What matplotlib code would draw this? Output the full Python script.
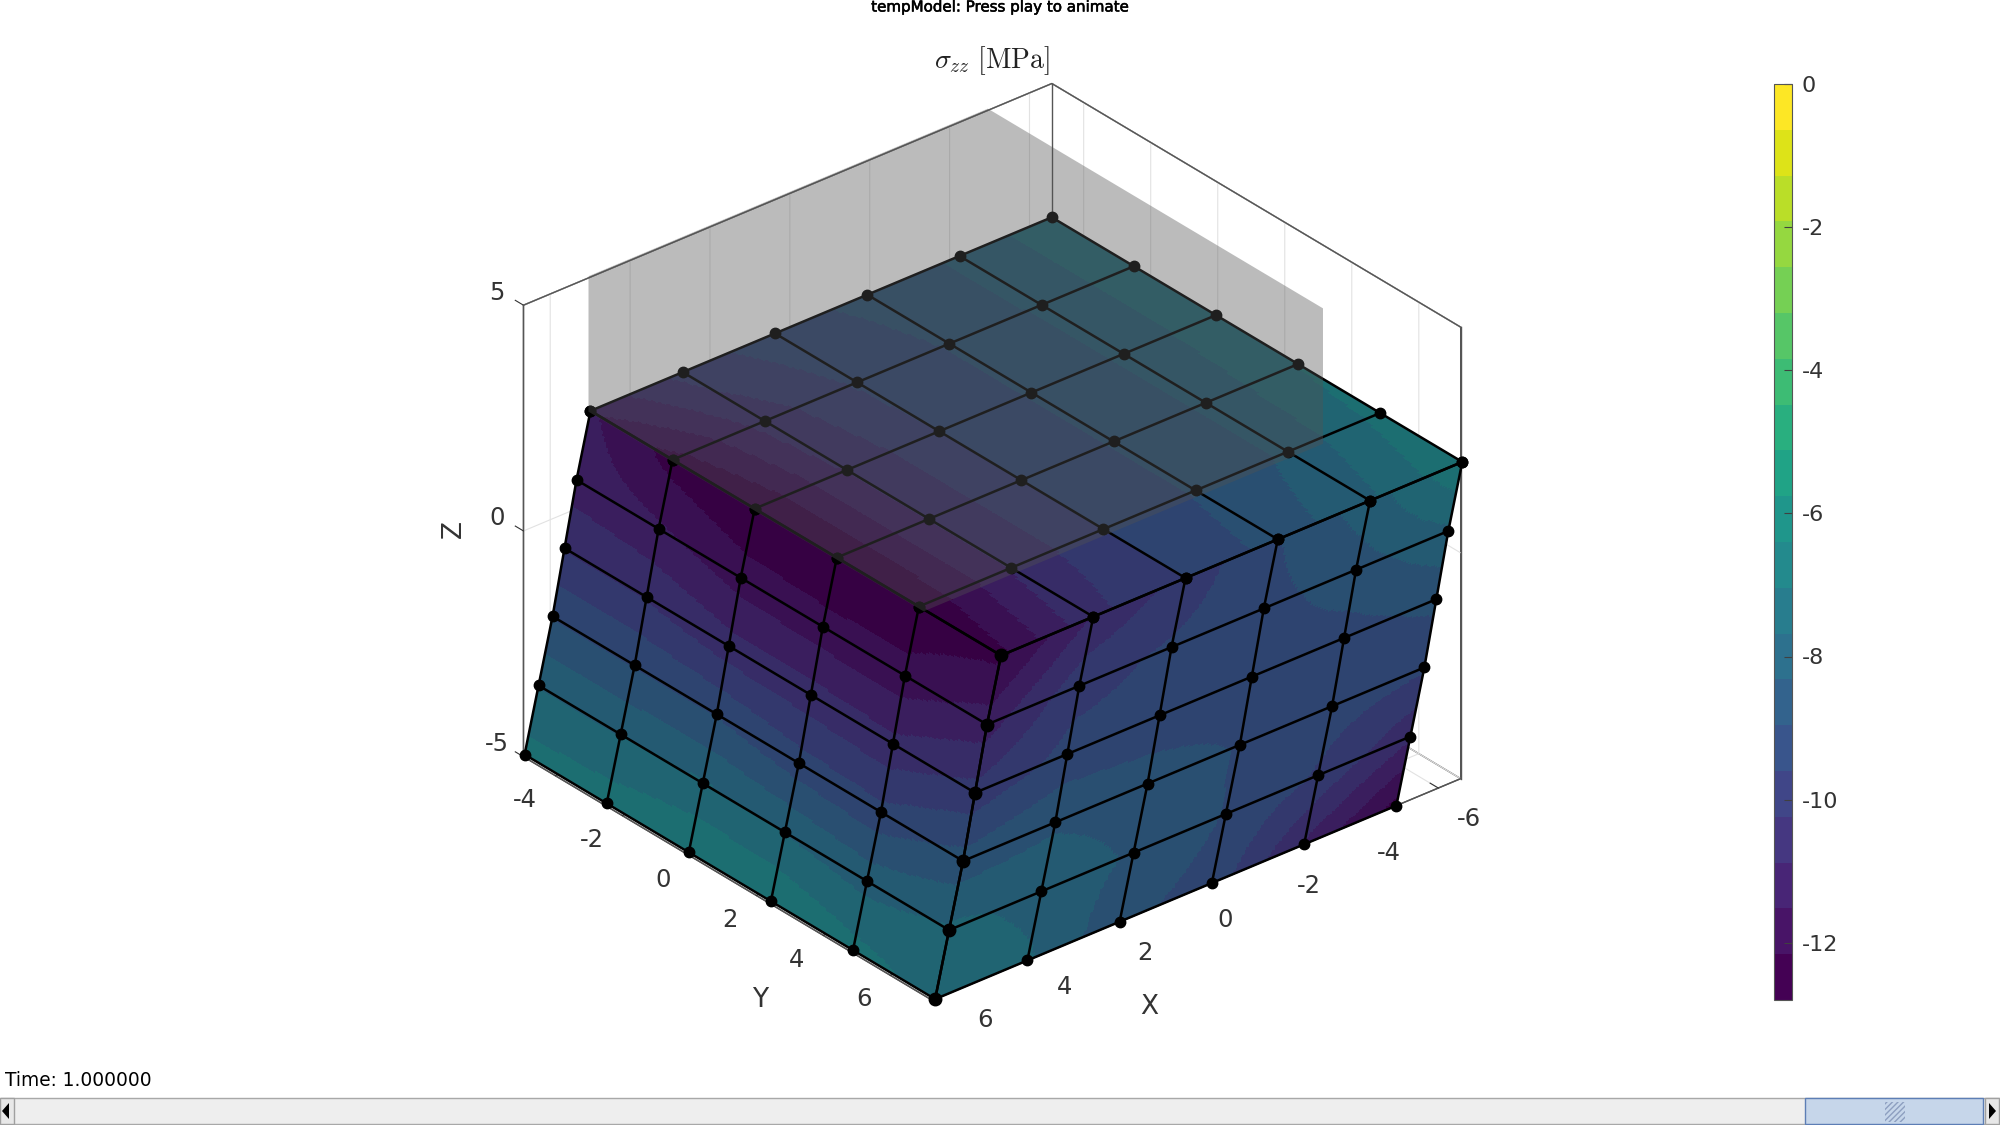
import numpy as np
import matplotlib
matplotlib.use('Agg')
import matplotlib.pyplot as plt
import matplotlib.patheffects as pe
from matplotlib.cm import ScalarMappable
from matplotlib.colors import Normalize
from matplotlib.patches import Polygon, Rectangle
from mpl_toolkits.mplot3d.art3d import Poly3DCollection

plt.rcParams['font.family'] = 'DejaVu Sans'
plt.rcParams['mathtext.fontset'] = 'cm'
plt.rcParams['axes.unicode_minus'] = False

# node positions of the mesh
z_layers = [-5.0, -3.6, -2.2, -0.8, 0.6, 2.0]
y_nodes = [-5.0, -2.55, -0.1, 2.35, 4.8, 7.25]
x_nodes = np.array([
    [6.60, 4.29, 1.98, -0.33, -2.64, -4.95],
    [6.25, 3.94, 1.63, -0.68, -2.99, -5.30],
    [5.90, 3.59, 1.28, -1.03, -3.34, -5.65],
    [5.60, 3.29, 0.98, -1.33, -3.64, -5.95],
    [5.30, 2.99, 0.68, -1.63, -3.94, -6.25],
    [4.95, 2.64, 0.33, -1.98, -4.29, -6.60],
])

# sigma_zz on the three visible faces (rows bottom to top, or +x to -x on top)
stress_xface = np.array([
    [-6.8, -6.7, -6.4, -6.4, -6.8, -7.2],
    [-7.7, -7.7, -7.6, -7.7, -7.9, -7.6],
    [-9.0, -9.0, -9.0, -9.3, -9.4, -8.7],
    [-10.3, -10.3, -10.6, -10.6, -10.7, -10.0],
    [-11.2, -11.4, -11.8, -11.9, -11.9, -11.2],
    [-11.4, -12.4, -12.8, -12.8, -12.7, -12.3],
])
stress_yface = np.array([
    [-7.0, -7.6, -8.8, -9.2, -11.0, -12.4],
    [-7.5, -7.9, -8.4, -9.0, -9.7, -10.8],
    [-8.7, -8.4, -8.6, -9.0, -9.3, -9.5],
    [-10.0, -9.4, -9.4, -9.3, -9.2, -8.8],
    [-11.2, -9.8, -9.5, -9.2, -8.6, -7.8],
    [-12.3, -10.8, -10.0, -9.0, -8.0, -6.5],
])
stress_top = np.array([
    [-11.4, -12.4, -12.8, -12.8, -12.7, -12.3],
    [-10.0, -10.6, -10.8, -10.8, -10.8, -10.4],
    [-9.2, -9.5, -9.6, -9.6, -9.6, -9.6],
    [-8.8, -8.9, -8.9, -8.9, -8.9, -8.7],
    [-8.2, -8.2, -8.2, -8.2, -8.2, -7.8],
    [-7.2, -7.2, -7.2, -7.0, -6.8, -6.5],
])

plate_x = [-5, 5]
plate_y = [-5, 5]
plate_z = [2, 5]

x_lim = (-6.56, 6.67)
y_lim = (-4.95, 7.25)
z_lim = (-5, 5)
x_ticks = [-6, -4, -2, 0, 2, 4, 6]
y_ticks = [-4, -2, 0, 2, 4, 6]
z_ticks = [-5, 0, 5]
cbar_ticks = [0, -2, -4, -6, -8, -10, -12]
stress_min = -12.8
stress_max = 0

cmap = plt.get_cmap('viridis', 20)
norm = Normalize(stress_min, stress_max)


def refine(table, n=32):
    # finer grid for the colour bands only
    pos = np.linspace(0, 5, 5 * n + 1)
    rows = np.array([np.interp(pos, np.arange(6), r) for r in table])
    return np.array([np.interp(pos, np.arange(6), c) for c in rows.T]).T


def draw_face(ax, x, y, z, values):
    fine = refine(values)
    mid = (fine[:-1, :-1] + fine[1:, :-1] + fine[:-1, 1:] + fine[1:, 1:]) / 4
    colors = cmap(norm(mid))
    colors[..., :3] *= 0.8
    ax.plot_surface(refine(x), refine(y), refine(z), facecolors=colors, rstride=1,
                    cstride=1, shade=False, linewidth=0, antialiased=False, zorder=2)
    for i in range(6):
        ax.plot(x[i], y[i], z[i], color='k', lw=1.8, zorder=3)
        ax.plot(x[:, i], y[:, i], z[:, i], color='k', lw=1.8, zorder=3)
    ax.plot(x.ravel(), y.ravel(), z.ravel(), 'o', color='k', ms=7.5, zorder=4)


fig = plt.figure(figsize=(20, 11.25), dpi=100)
ax = fig.add_axes([457 / 2000, 48 / 1125, 1042 / 2000, 1042 / 1125], projection='3d',
                  proj_type='ortho', computed_zorder=False)
ax.set_xlim(*x_lim)
ax.set_ylim(*y_lim)
ax.set_zlim(*z_lim)
ax.set_box_aspect((13.23, 12.2, 10))
ax.view_init(elev=30, azim=50)
ax.patch.set_alpha(0)

ax.set_xticks(x_ticks)
ax.set_yticks(y_ticks)
ax.set_zticks(z_ticks)
for axis in (ax.xaxis, ax.yaxis, ax.zaxis):
    axis.pane.fill = False
    axis.pane.set_edgecolor('#555555')
    axis.pane.set_alpha(1)
    axis.pane.set_linewidth(1)
    axis.line.set_color('#555555')
    axis.line.set_linewidth(1)
    axis._axinfo['grid'].update(color='#e2e2e2', linewidth=0.8)
    axis._axinfo['tick'].update(inward_factor=0, outward_factor=0.25, color='#555555')
# MATLAB style z ticks point along y
ax.zaxis._get_tickdir = lambda pos: 1
ax.tick_params(axis='both', labelsize=17.5, labelcolor='#333333', colors='#333333')
ax.tick_params(axis='x', pad=9.5)
ax.tick_params(axis='y', pad=6)
ax.tick_params(axis='z', pad=3)
for label in ax.get_xticklabels():
    label.set_ha('left')
    label.set_va('center')
for label in ax.get_yticklabels():
    label.set_ha('right')
    label.set_va('center')
for label in ax.get_zticklabels():
    label.set_va('bottom')
ax.zaxis.set_rotate_label(False)
ax.set_zlabel('Z', fontsize=19, color='#333333', rotation=90, labelpad=8)

# the grid at z=5 covers the pane edges, so draw the back of the box again
box_style = dict(color='#555555', lw=1, zorder=1)
ax.plot([x_lim[1], x_lim[0], x_lim[0]], [y_lim[0], y_lim[0], y_lim[1]], [z_lim[1]] * 3, **box_style)
ax.plot([x_lim[0], x_lim[0]], [y_lim[1], y_lim[1]], z_lim, **box_style)
ax.plot([x_lim[0], x_lim[0]], [y_lim[0], y_lim[0]], z_lim, **box_style)

zg = np.array([[z] * 6 for z in z_layers])

# +x face: columns run along y
draw_face(ax, np.array([[row[0]] * 6 for row in x_nodes]), np.array([y_nodes] * 6), zg, stress_xface)
# +y face: columns run along x
draw_face(ax, x_nodes, np.full((6, 6), y_nodes[-1]), zg, stress_yface)
# top face: rows run along x, columns along y
top_x = np.array([[v] * 6 for v in x_nodes[-1]])
draw_face(ax, top_x, np.array([y_nodes] * 6), np.full((6, 6), z_layers[-1]), stress_top)
# nodes on the near vertical edge look heavier
ax.plot(x_nodes[:, 0], [y_nodes[-1]] * 6, z_layers, 'o', color='k', ms=9, zorder=4)

# translucent rigid plate resting on the top of the block
plate = [(plate_x[1], plate_y[0], plate_z[1]), (plate_x[0], plate_y[0], plate_z[1]),
         (plate_x[0], plate_y[1], plate_z[1]), (plate_x[0], plate_y[1], plate_z[0]),
         (plate_x[1], plate_y[1], plate_z[0]), (plate_x[1], plate_y[0], plate_z[0])]
ax.add_collection3d(Poly3DCollection([plate], facecolors=(0.32, 0.32, 0.32, 0.39),
                                     edgecolors='none', zorder=5))

# colorbar
cax = fig.add_axes([1774 / 2000, 125 / 1125, 18 / 2000, 916 / 1125])
cb = fig.colorbar(ScalarMappable(norm=norm, cmap=cmap), cax=cax, ticks=cbar_ticks)
cb.ax.tick_params(labelsize=16, direction='in', length=6, width=0.8, color='#404040',
                  labelcolor='#333333', pad=7)
cb.outline.set_edgecolor('#555555')
cb.outline.set_linewidth(0.8)

fig.text(0.5, 1118 / 1125, 'tempModel: Press play to animate', ha='center', va='center',
         fontsize=10.85, color='k', path_effects=[pe.withStroke(linewidth=0.4, foreground='k')])
fig.text(992 / 2000, 1064 / 1125, r'$\sigma_{zz}\ [\mathrm{MPa}]$', ha='center', va='center',
         fontsize=20, color='#222222')
fig.text(5 / 2000, 44 / 1125, 'Time: 1.000000', ha='left', va='center', fontsize=13.4, color='k')
fig.text(1149 / 2000, 118 / 1125, 'X', ha='center', va='center', fontsize=19, color='#333333')
fig.text(760 / 2000, 125 / 1125, 'Y', ha='center', va='center', fontsize=19, color='#333333')

# slider strip at the bottom of the window
bar = fig.add_axes([0, 0, 1, 1], zorder=10)
bar.axis('off')
bar.add_patch(Rectangle((0, 1098), 2000, 26, fc='#eeeeee', ec='#a8a8a8', lw=1))
bar.imshow(np.linspace(0.82, 0.72, 26)[:, None], cmap='Blues_r', extent=(1805, 1983, 1124, 1098),
           aspect='auto', vmin=0.1, vmax=1.05)
bar.set_xlim(0, 2000)
bar.set_ylim(1125, 0)
bar.add_patch(Rectangle((1805, 1098), 178, 26, fc='#c6d6ea', ec='#5d7eb5', lw=1))
bar.add_patch(Rectangle((1885, 1102), 20, 20, fc='none', ec='#8d9fc0', hatch='//////', lw=0))
for left in (0, 1985):
    bar.add_patch(Rectangle((left, 1098), 14, 26, fc='#e8e8e8', ec='#a0a0a0', lw=1))
bar.add_patch(Polygon([(9, 1103), (9, 1119), (2, 1111)], fc='k'))
bar.add_patch(Polygon([(1989, 1103), (1989, 1119), (1996, 1111)], fc='k'))

fig.savefig('out.png', dpi=100)
